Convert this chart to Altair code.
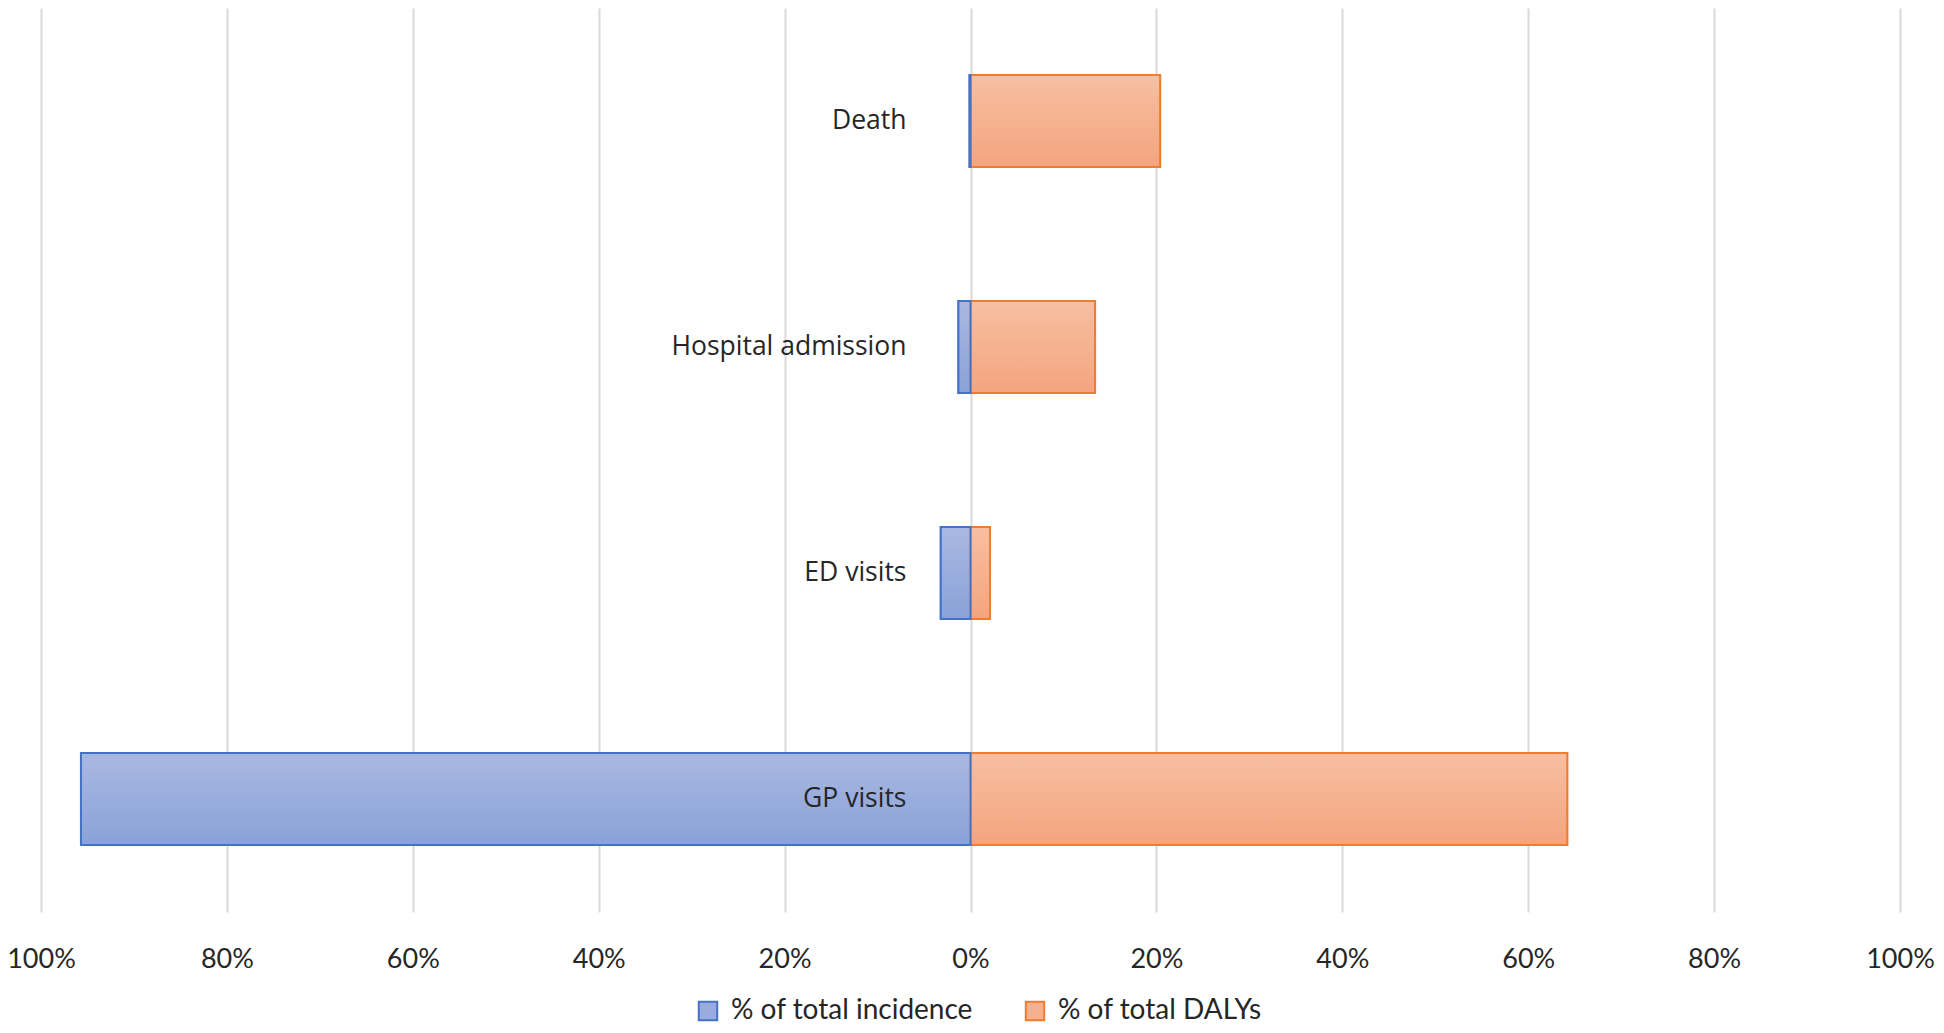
import altair as alt
import pandas as pd

categories = ["Death", "Hospital admission", "ED visits", "GP visits"]
incidence = [0.1, 1.3, 3.2, 95.7]
dalys = [20.4, 13.4, 2.1, 64.2]
series_names = ["% of total incidence", "% of total DALYs"]
x_ticks = [-100, -80, -60, -40, -20, 0, 20, 40, 60, 80, 100]

rows = []
for c, i, d in zip(categories, incidence, dalys):
    rows.append({"category": c, "series": series_names[0], "value": -i / 100})
    rows.append({"category": c, "series": series_names[1], "value": d / 100})
df = pd.DataFrame(rows)
lab = pd.DataFrame({"category": categories, "zero": [0.0] * len(categories)})

FONT = "Lato"
blue_fill = "#99acdd"
orange_fill = "#f5b08f"
blue_stroke = "#4472c4"
orange_stroke = "#ed7d31"

xscale = alt.Scale(domain=[-1, 1], nice=False, zero=False)
yscale = alt.Scale(domain=categories, paddingInner=0.593, paddingOuter=0.2965)

xaxis = alt.Axis(
    values=[v / 100 for v in x_ticks],
    labelExpr="format(abs(datum.value), '.0%')",
    domain=False, ticks=False, grid=True, gridColor="#d9d9d9", gridWidth=2,
    labelFont=FONT, labelFontSize=27, labelColor="#262626", labelPadding=55,
    labelBaseline="alphabetic", title=None, labelFlush=False,
)

legend = alt.Legend(
    title=None, orient="none", direction="horizontal", legendX=653, legendY=989,
    labelFont=FONT, labelFontSize=28, labelColor="#262626", labelOffset=9,
    symbolType="square", symbolSize=340, symbolStrokeWidth=2,
    columnPadding=48, labelLimit=400,
)

base = alt.Chart(df)

legend_layer = base.mark_bar(strokeWidth=2).encode(
    x=alt.X("value:Q", scale=xscale, axis=xaxis),
    y=alt.Y("category:N", scale=yscale, axis=None, sort=categories),
    fill=alt.Fill("series:N", scale=alt.Scale(domain=series_names, range=[blue_fill, orange_fill]),
                  legend=legend),
    stroke=alt.Stroke("series:N", scale=alt.Scale(domain=series_names, range=[blue_stroke, orange_stroke]),
                      legend=legend),
)

def grad(c1, c2):
    return alt.LinearGradient(
        gradient="linear",
        stops=[alt.GradientStop(color=c1, offset=0), alt.GradientStop(color=c2, offset=1)],
        x1=0, x2=0, y1=0, y2=1,
    )

orange_layer = alt.Chart(df).transform_filter(alt.datum.series == series_names[1]).mark_bar(
    fill=grad("#f7bfa2", "#f4a47e"), stroke=orange_stroke, strokeWidth=2
).encode(
    x=alt.X("value:Q", scale=xscale),
    y=alt.Y("category:N", scale=yscale, sort=categories),
)
blue_layer = alt.Chart(df).transform_filter(alt.datum.series == series_names[0]).mark_bar(
    fill=grad("#a9b8e1", "#8aa2d8"), stroke=blue_stroke, strokeWidth=2
).encode(
    x=alt.X("value:Q", scale=xscale),
    y=alt.Y("category:N", scale=yscale, sort=categories),
)

text_layer = alt.Chart(lab).mark_text(
    align="right", baseline="middle", dx=-64, font="Open Sans", fontSize=26.5, color="#262626"
).encode(
    x=alt.X("zero:Q", scale=xscale),
    y=alt.Y("category:N", scale=yscale, sort=categories),
    text=alt.Text("category:N"),
)

chart = alt.layer(legend_layer, orange_layer, blue_layer, text_layer).properties(
    width=1859, height=904,
    autosize=alt.AutoSizeParams(type="none"),
    padding={"left": 33, "top": 0, "right": 35, "bottom": 113},
    background="white",
).configure_view(strokeWidth=0)

chart.save("out.html", embed_options={"renderer": "svg", "actions": False})
